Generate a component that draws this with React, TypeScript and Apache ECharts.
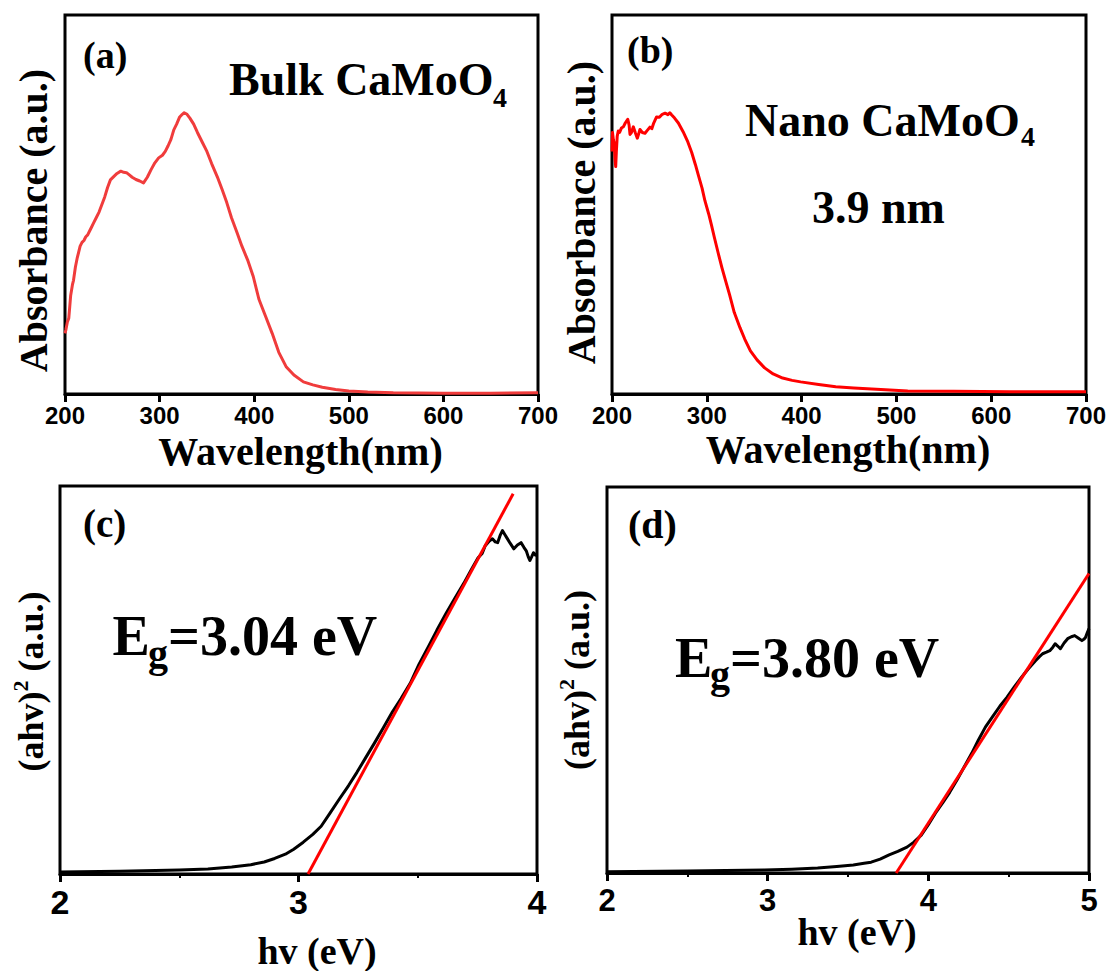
import React, { useEffect, useRef } from 'react';
import * as echarts from 'echarts';

// (a) Bulk CaMoO4 absorbance
const bulkWavelength = [200, 201, 202.5, 204, 205, 206, 208, 209, 211, 213, 214, 216, 218, 220, 222, 224, 226, 228, 230, 233, 236, 239, 242, 245, 248, 252, 255, 259, 262, 265, 268, 271, 275, 279, 283, 287, 291, 295, 299, 303, 306, 309, 312, 315, 318, 321, 324, 326, 329, 332, 336, 340, 345, 350, 355, 361, 366, 371, 376, 382, 387, 393, 399, 405, 412, 419, 426, 434, 442, 452, 462, 472, 486, 500, 520, 547, 600, 650, 700];
const bulkAbs = [0.16, 0.17, 0.19, 0.2, 0.23, 0.26, 0.29, 0.3, 0.335, 0.36, 0.37, 0.39, 0.4, 0.405, 0.415, 0.42, 0.43, 0.44, 0.45, 0.465, 0.48, 0.5, 0.52, 0.545, 0.565, 0.575, 0.582, 0.588, 0.585, 0.584, 0.578, 0.572, 0.566, 0.562, 0.557, 0.572, 0.592, 0.61, 0.623, 0.63, 0.64, 0.655, 0.672, 0.697, 0.712, 0.73, 0.738, 0.742, 0.738, 0.728, 0.712, 0.69, 0.665, 0.64, 0.608, 0.573, 0.54, 0.505, 0.465, 0.425, 0.39, 0.354, 0.31, 0.25, 0.205, 0.16, 0.11, 0.071, 0.05, 0.032, 0.024, 0.018, 0.012, 0.008, 0.005, 0.003, 0.002, 0.002, 0.003];

// (b) Nano CaMoO4 absorbance
const nanoWavelength = [200, 200.5, 201.5, 202.5, 203.2, 203.9, 204.6, 205.5, 206.6, 208, 210, 212, 214, 216.6, 218, 219, 220.5, 222.5, 224.5, 226.7, 228, 229.5, 232, 234.8, 237, 240, 242, 244, 247, 250, 253, 256, 259, 261, 263, 266, 270, 275, 280, 284, 288, 291, 295, 298, 302, 305, 308, 312, 316, 320, 324, 329, 335, 340, 346, 353, 361, 370, 380, 390, 399, 418, 436, 455, 474, 512, 560, 620, 700];
const nanoAbs = [0.64, 0.69, 0.67, 0.66, 0.62, 0.6, 0.64, 0.68, 0.694, 0.69, 0.702, 0.705, 0.715, 0.725, 0.71, 0.685, 0.69, 0.705, 0.69, 0.675, 0.685, 0.698, 0.69, 0.688, 0.695, 0.704, 0.7, 0.715, 0.731, 0.73, 0.738, 0.741, 0.737, 0.742, 0.736, 0.728, 0.715, 0.692, 0.665, 0.638, 0.605, 0.578, 0.543, 0.51, 0.475, 0.445, 0.413, 0.372, 0.333, 0.297, 0.262, 0.215, 0.175, 0.145, 0.114, 0.09, 0.069, 0.053, 0.042, 0.036, 0.032, 0.025, 0.019, 0.016, 0.013, 0.008, 0.007, 0.006, 0.006];

// (c) Bulk Tauc plot
const bulkEnergy = [2.0, 2.25, 2.5, 2.62, 2.72, 2.8, 2.856, 2.9, 2.945, 2.98, 3.02, 3.06, 3.095, 3.13, 3.17, 3.21, 3.245, 3.28, 3.319, 3.357, 3.394, 3.43, 3.469, 3.505, 3.544, 3.58, 3.619, 3.655, 3.693, 3.725, 3.753, 3.77, 3.783, 3.8, 3.813, 3.825, 3.835, 3.845, 3.855, 3.865, 3.873, 3.888, 3.903, 3.918, 3.933, 3.945, 3.955, 3.963, 3.97, 3.978, 3.985, 3.993, 4.0];
const bulkTauc = [0.005, 0.007, 0.01, 0.013, 0.018, 0.024, 0.031, 0.04, 0.051, 0.064, 0.082, 0.102, 0.123, 0.155, 0.192, 0.228, 0.262, 0.298, 0.338, 0.378, 0.418, 0.452, 0.492, 0.54, 0.585, 0.628, 0.672, 0.71, 0.749, 0.785, 0.815, 0.826, 0.846, 0.858, 0.864, 0.856, 0.854, 0.872, 0.885, 0.875, 0.867, 0.852, 0.838, 0.848, 0.854, 0.842, 0.833, 0.818, 0.808, 0.818, 0.828, 0.822, 0.826];
const bulkFitX = [3.04, 3.9];
const bulkFitY = [0, 0.98];

// (d) Nano Tauc plot
const nanoEnergy = [2.0, 2.5, 2.98, 3.15, 3.311, 3.43, 3.533, 3.6, 3.644, 3.7, 3.756, 3.81, 3.867, 3.91, 3.956, 4.0, 4.044, 4.09, 4.133, 4.18, 4.222, 4.27, 4.311, 4.355, 4.4, 4.445, 4.489, 4.535, 4.578, 4.62, 4.667, 4.69, 4.711, 4.735, 4.756, 4.775, 4.789, 4.805, 4.822, 4.845, 4.867, 4.89, 4.911, 4.935, 4.956, 4.97, 4.978, 4.989, 5.0];
const nanoTauc = [0.003, 0.005, 0.008, 0.01, 0.013, 0.017, 0.021, 0.025, 0.028, 0.036, 0.047, 0.056, 0.067, 0.08, 0.098, 0.125, 0.155, 0.182, 0.209, 0.242, 0.274, 0.31, 0.344, 0.378, 0.405, 0.432, 0.455, 0.482, 0.506, 0.528, 0.55, 0.56, 0.568, 0.572, 0.576, 0.585, 0.594, 0.588, 0.581, 0.596, 0.607, 0.612, 0.615, 0.608, 0.602, 0.606, 0.61, 0.622, 0.633];
const nanoFitX = [3.8, 5.0];
const nanoFitY = [0, 0.776];

const zip = (xs: number[], ys: number[]) => xs.map((x, i) => [x, ys[i]]);

const SERIF = 'Liberation Serif';
const SANS = 'Liberation Sans';

const grids = [
  { left: 65, top: 15, width: 473, height: 379 },
  { left: 612, top: 15, width: 474, height: 379 },
  { left: 60, top: 486, width: 477, height: 388 },
  { left: 607, top: 487, width: 482, height: 386 },
].map((g) => ({ ...g, show: true, borderColor: '#000', borderWidth: 3, backgroundColor: 'transparent' }));

function xAxis(gridIndex: number, min: number, max: number, interval: number, fontSize: number, margin: number, minor: boolean) {
  return {
    type: 'value',
    gridIndex,
    min,
    max,
    interval,
    axisLine: { show: true, onZero: false, lineStyle: { color: '#000', width: 3 } },
    axisTick: { show: true, inside: false, length: 8, lineStyle: { color: '#000', width: 3 } },
    minorTick: { show: minor, splitNumber: 2, length: 4, lineStyle: { color: '#000', width: 2 } },
    splitLine: { show: false },
    minorSplitLine: { show: false },
    axisLabel: { show: true, margin, fontSize, fontWeight: 'bold', fontFamily: SANS, color: '#000', lineHeight: fontSize * 0.8 },
  };
}

function yAxis(gridIndex: number) {
  return {
    type: 'value',
    gridIndex,
    min: 0,
    max: 1,
    axisLine: { show: false },
    axisTick: { show: false },
    axisLabel: { show: false },
    splitLine: { show: false },
  };
}

function line(idx: number, data: number[][], color: string, width: number) {
  return {
    type: 'line',
    xAxisIndex: idx,
    yAxisIndex: idx,
    data,
    symbol: 'none',
    smooth: false,
    clip: true,
    lineStyle: { color, width, join: 'round' },
  };
}

function txt(text: string, x: number, y: number, fontSize: number, align = 'left', fontFamily = SERIF, rotation = 0) {
  return {
    type: 'text',
    x,
    y,
    rotation,
    style: {
      text,
      fontSize,
      fontFamily,
      fontWeight: 'bold',
      fill: '#000',
      align,
      verticalAlign: 'middle',
      lineHeight: Math.round(fontSize * 0.75),
    },
  };
}

function tauclabel(x: number, y: number) {
  return {
    type: 'text',
    x,
    y,
    rotation: Math.PI / 2,
    style: {
      text: '{m|(ahv)}{s|2}{m| (a.u.)}',
      align: 'center',
      verticalAlign: 'middle',
      rich: {
        m: { fontSize: 36, fontFamily: SERIF, fontWeight: 'bold', fill: '#000' },
        s: { fontSize: 22, fontFamily: SERIF, fontWeight: 'bold', fill: '#000', padding: [0, 0, 22, 0] },
      },
    },
  };
}

const option = {
  animation: false,
  backgroundColor: '#fff',
  grid: grids,
  xAxis: [
    xAxis(0, 200, 700, 100, 24, 12, false),
    xAxis(1, 200, 700, 100, 24, 12, false),
    xAxis(2, 2, 4, 1, 34, 14, true),
    xAxis(3, 2, 5, 1, 31, 15, true),
  ],
  yAxis: [yAxis(0), yAxis(1), yAxis(2), yAxis(3)],
  series: [
    line(0, zip(bulkWavelength, bulkAbs), '#f03c3c', 3),
    line(1, zip(nanoWavelength, nanoAbs), '#ff0000', 3),
    line(2, zip(bulkEnergy, bulkTauc), '#000', 3),
    line(2, zip(bulkFitX, bulkFitY), '#ff0000', 3),
    line(3, zip(nanoEnergy, nanoTauc), '#000', 3),
    line(3, zip(nanoFitX, nanoFitY), '#ff0000', 3),
  ],
  graphic: [
    // panel (a)
    txt('(a)', 83, 54.5, 38),
    txt('Bulk CaMoO', 229, 79.5, 46),
    txt('4', 493, 97.5, 28),
    txt('Wavelength(nm)', 300.5, 451.5, 40, 'center'),
    txt('Absorbance (a.u.)', 33, 220.5, 40, 'center', SERIF, Math.PI / 2),
    // panel (b)
    txt('(b)', 627, 49.5, 38),
    txt('Nano CaMoO', 745, 120.5, 46),
    txt('4', 1021, 136.5, 28),
    txt('3.9 nm', 812, 207.5, 46),
    txt('Wavelength(nm)', 848, 449.5, 40, 'center'),
    txt('Absorbance (a.u.)', 581, 212.5, 40, 'center', SERIF, Math.PI / 2),
    // panel (c)
    txt('(c)', 83, 523, 39),
    txt('E', 112.5, 636, 56),
    txt('g', 148, 653.5, 40),
    txt('=3.04 eV', 168, 636, 56),
    txt('hv (eV)', 317, 951, 38, 'center'),
    tauclabel(31, 681.5),
    // panel (d)
    txt('(d)', 628, 524.5, 40),
    txt('E', 675, 658, 56),
    txt('g', 710, 674.5, 40),
    txt('=3.80 eV', 730, 658, 56),
    txt('hv (eV)', 857, 932, 38, 'center'),
    tauclabel(577, 680),
  ],
};

export default function App() {
  const ref = useRef<HTMLDivElement>(null);
  useEffect(() => {
    const chart = echarts.init(ref.current!, null, { renderer: 'svg' });
    chart.setOption(option as any);
    return () => chart.dispose();
  }, []);
  return (
    <div
      ref={ref}
      style={{ position: 'fixed', left: 0, top: 0, width: 1110, height: 971, background: '#fff' }}
    />
  );
}
